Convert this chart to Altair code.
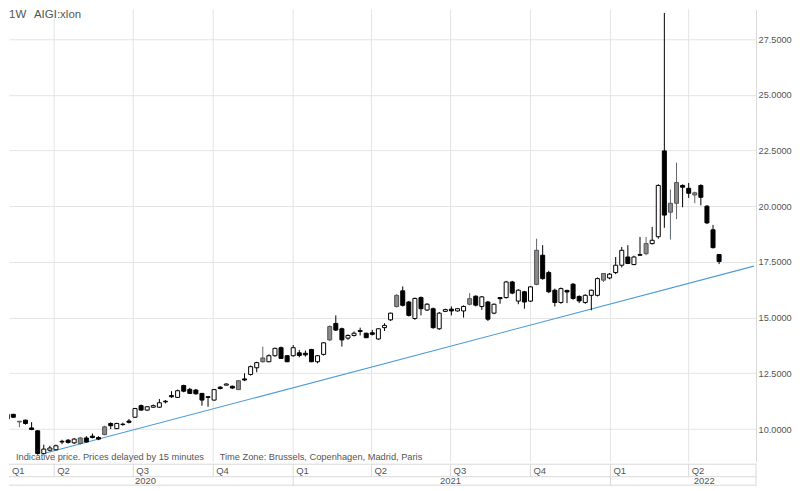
import altair as alt
import pandas as pd

# ---------------- data ----------------
dates = pd.date_range("2020-01-31", periods=119, freq="7D").strftime("%Y-%m-%d").tolist()

opens = [10.50, 10.45, 10.66, 10.35, 10.40, 10.05, 9.92, 8.90, 9.05, 9.07,
         9.42, 9.50, 9.38, 9.35, 9.60, 9.62, 9.62, 9.75, 10.25, 10.02,
         10.20, 10.30, 10.53, 11.05, 10.85, 10.98, 10.98, 11.22, 11.50, 11.42,
         11.95, 11.78, 11.75, 11.60, 11.45, 11.30, 11.82, 11.97, 11.92, 11.77,
         12.20, 12.45, 12.75, 13.02, 13.02, 13.29, 13.65, 13.29, 13.29, 13.42,
         13.40, 13.57, 13.02, 13.35, 14.00, 14.74, 14.50, 14.08, 14.20, 14.38,
         14.30, 14.32, 14.04, 14.55, 14.90, 15.50, 16.20, 15.70, 14.96, 15.90,
         15.34, 15.40, 14.50, 15.28, 15.38, 15.30, 15.30, 15.60, 15.96, 15.50,
         15.70, 15.20, 15.90, 15.90, 16.60, 15.74, 16.16, 15.74, 16.49, 17.80,
         17.02, 16.23, 15.68, 16.15, 16.50, 15.95, 15.68, 16.00, 16.00, 16.68,
         16.78, 17.02, 17.35, 17.72, 17.38, 17.83, 17.87, 18.32, 18.63, 22.48,
         19.73, 20.13, 20.93, 20.80, 20.50, 20.93, 20.00, 18.94, 17.83]
highs = [10.71, 10.70, 10.68, 10.36, 10.42, 10.31, 9.95, 9.30, 9.25, 9.30,
         9.52, 9.55, 9.60, 9.65, 9.68, 9.80, 9.68, 10.15, 10.30, 10.28,
         10.28, 10.45, 10.95, 11.10, 11.02, 11.10, 11.35, 11.30, 11.70, 11.77,
         11.99, 11.85, 11.80, 11.62, 11.47, 11.80, 11.92, 12.05, 11.95, 12.20,
         12.50, 12.85, 13.02, 13.70, 13.35, 13.65, 13.70, 13.32, 13.77, 13.55,
         13.52, 13.60, 13.32, 13.90, 14.65, 15.10, 14.55, 14.25, 14.38, 14.55,
         14.32, 14.45, 14.52, 14.75, 15.22, 16.05, 16.40, 15.75, 15.90, 15.95,
         15.65, 15.45, 15.25, 15.40, 15.50, 15.42, 15.55, 16.10, 16.00, 15.97,
         15.75, 15.63, 15.92, 16.65, 16.65, 16.27, 16.20, 16.42, 18.54, 18.25,
         17.10, 16.30, 16.35, 16.25, 16.55, 16.00, 16.05, 16.25, 16.80, 17.00,
         17.00, 17.72, 18.17, 18.25, 17.78, 18.62, 18.62, 19.07, 20.98, 28.67,
         20.75, 21.95, 20.98, 21.04, 20.65, 20.98, 20.05, 19.16, 17.85]
lows = [10.44, 10.42, 10.50, 10.08, 10.20, 9.95, 8.85, 8.85, 9.00, 9.05,
        9.32, 9.35, 9.33, 9.30, 9.40, 9.58, 9.50, 9.72, 10.00, 10.00,
        10.15, 10.25, 10.50, 10.82, 10.82, 10.95, 10.95, 11.15, 11.40, 11.40,
        11.65, 11.57, 11.55, 11.05, 11.00, 11.28, 11.78, 11.95, 11.80, 11.75,
        12.15, 12.40, 12.55, 12.98, 13.00, 13.25, 13.15, 13.00, 13.25, 13.22,
        13.25, 13.00, 12.95, 13.30, 13.95, 14.40, 13.70, 14.00, 14.15, 14.20,
        14.08, 14.20, 14.00, 14.40, 14.85, 15.45, 15.50, 15.05, 14.90, 15.10,
        15.30, 14.50, 14.45, 15.25, 15.10, 15.27, 15.00, 15.55, 15.50, 15.35,
        14.85, 15.15, 15.62, 15.85, 16.05, 15.60, 15.40, 15.70, 16.45, 16.70,
        16.10, 15.50, 15.62, 15.65, 15.80, 15.65, 15.62, 15.33, 15.95, 16.60,
        16.72, 16.95, 17.25, 17.40, 17.35, 17.77, 17.80, 18.28, 18.54, 19.03,
        18.50, 19.42, 19.95, 20.37, 20.13, 20.04, 19.20, 18.10, 17.40]
closes = [10.65, 10.66, 10.53, 10.32, 10.25, 9.98, 8.90, 9.10, 9.15, 9.25,
          9.45, 9.40, 9.55, 9.60, 9.42, 9.68, 9.55, 10.10, 10.15, 10.25,
          10.22, 10.36, 10.92, 10.85, 11.00, 11.05, 11.18, 11.25, 11.45, 11.72,
          11.70, 11.60, 11.58, 11.30, 11.42, 11.77, 11.88, 12.02, 11.84, 12.17,
          12.25, 12.80, 12.98, 13.19, 13.29, 13.62, 13.17, 13.02, 13.65, 13.30,
          13.33, 13.02, 13.29, 13.87, 14.60, 14.44, 14.00, 14.20, 14.30, 14.42,
          14.10, 14.25, 14.50, 14.65, 15.20, 16.00, 15.55, 15.10, 15.86, 15.40,
          15.60, 14.55, 15.20, 15.36, 15.30, 15.40, 15.50, 15.85, 15.56, 15.93,
          14.93, 15.60, 15.85, 16.60, 16.10, 16.23, 15.70, 16.38, 18.02, 16.75,
          16.16, 15.68, 16.30, 16.22, 15.86, 15.75, 16.00, 16.23, 16.75, 16.98,
          16.95, 17.35, 18.02, 17.43, 17.72, 17.80, 18.32, 18.47, 20.93, 19.60,
          20.13, 21.06, 20.85, 20.58, 20.60, 20.40, 19.25, 18.14, 17.52]
# u = hollow (up), d = filled black (down), g = grey filled
styles = ["u", "u", "d", "g", "d", "d", "d", "u", "u", "u",
          "d", "d", "u", "g", "d", "d", "d", "g", "d", "u",
          "d", "d", "u", "d", "u", "u", "u", "u", "d", "u",
          "d", "d", "d", "d", "d", "u", "d", "u", "d", "g",
          "d", "u", "u", "g", "u", "u", "d", "d", "u", "d",
          "d", "d", "u", "u", "g", "d", "d", "u", "u", "d",
          "d", "d", "u", "u", "u", "g", "d", "d", "u", "d",
          "u", "d", "u", "u", "d", "u", "u", "g", "d", "u",
          "d", "u", "d", "u", "d", "u", "d", "u", "g", "d",
          "d", "d", "u", "d", "d", "d", "u", "u", "u", "g",
          "u", "u", "u", "d", "u", "d", "g", "u", "u", "d",
          "g", "g", "d", "d", "g", "d", "d", "d", "d"]

trend_dates = ["2020-03-20", "2022-06-15"]
trend_values = [8.90, 17.31]

quarter_starts = ["2020-04-01", "2020-07-01", "2020-10-01", "2021-01-01", "2021-04-01",
                  "2021-07-01", "2021-10-01", "2022-01-01", "2022-04-01"]
q_label_dates = ["2020-02-09"] + quarter_starts
q_labels = ["Q1", "Q2", "Q3", "Q4", "Q1", "Q2", "Q3", "Q4", "Q1", "Q2"]
year_bounds = ["2021-01-01", "2022-01-01"]
year_label_dates = ["2020-07-15", "2021-07-01", "2022-04-19"]
year_labels = ["2020", "2021", "2022"]
y_ticks = [10, 12.5, 15, 17.5, 20, 22.5, 25, 27.5]

header_left = "1W"
header_symbol = "AIGI:xlon"
note_1 = "Indicative price. Prices delayed by 15 minutes"
note_2 = "Time Zone: Brussels, Copenhagen, Madrid, Paris"

# ---------------- chart ----------------
FONT = "Liberation Sans"
W, H = 748, 453
GRID = "#e4e4e4"
LINE = "#d9d9d9"
TXT = "#555555"

df = pd.DataFrame(dict(date=dates, open=opens, high=highs, low=lows, close=closes, style=styles))
trend_df = pd.DataFrame(dict(date=trend_dates, value=trend_values))
q_df = pd.DataFrame(dict(date=quarter_starts))
ql_df = pd.DataFrame(dict(date=q_label_dates, label=q_labels))
yb_df = pd.DataFrame(dict(date=year_bounds))
yl_df = pd.DataFrame(dict(date=year_label_dates, label=year_labels))
one = pd.DataFrame(dict(a=[0]))

x_scale = alt.Scale(type="utc", padding=0,
                    domain=[alt.DateTime(year=2020, month=2, date=9, utc=True),
                            alt.DateTime(year=2022, month=6, date=17, hours=12, utc=True)])
y_scale = alt.Scale(domain=[8.534, 28.833], nice=False, zero=False, padding=0)
y_axis = alt.Axis(orient="right", values=y_ticks, format=".4f", ticks=False, grid=True,
                  gridColor=GRID, domain=True, domainColor=LINE, labelColor=TXT,
                  labelFont=FONT, labelFontSize=9.2, labelPadding=2, title=None)


def X(field="date"):
    return alt.X(f"{field}:T", scale=x_scale, axis=None)


sdom = ["u", "d", "g"]

vgrid = alt.Chart(q_df).mark_rule(color=GRID, strokeWidth=1).encode(x=X())

trend = alt.Chart(trend_df).mark_line(color="#4a9bd6", strokeWidth=1.1, clip=True).encode(
    x=X(), y=alt.Y("value:Q", scale=y_scale, axis=y_axis))

wicks = alt.Chart(df).mark_rule(strokeWidth=1, clip=True).encode(
    x=X(),
    y=alt.Y("low:Q", scale=y_scale, axis=y_axis),
    y2="high:Q",
    color=alt.Color("style:N", scale=alt.Scale(domain=sdom, range=["#000000", "#000000", "#5f6670"]),
                    legend=None))

bodies = alt.Chart(df).mark_bar(size=4, strokeWidth=1, clip=True).encode(
    x=X(),
    y=alt.Y("open:Q", scale=y_scale, axis=y_axis),
    y2="close:Q",
    fill=alt.Fill("style:N", scale=alt.Scale(domain=sdom, range=["#ffffff", "#000000", "#8a8a8a"]),
                  legend=None),
    stroke=alt.Stroke("style:N", scale=alt.Scale(domain=sdom, range=["#000000", "#000000", "#555555"]),
                      legend=None))

txt = dict(font=FONT, color=TXT, align="left")
head1 = alt.Chart(one).mark_text(fontSize=11.5, baseline="top", **txt).encode(
    x=alt.value(0), y=alt.value(0), text=alt.value(header_left))
head2 = alt.Chart(one).mark_text(fontSize=11.5, baseline="top", **txt).encode(
    x=alt.value(25), y=alt.value(0), text=alt.value(header_symbol))
foot1 = alt.Chart(one).mark_text(fontSize=9.3, baseline="middle", **txt).encode(
    x=alt.value(7), y=alt.value(448), text=alt.value(note_1))
foot2 = alt.Chart(one).mark_text(fontSize=9.3, baseline="middle", **txt).encode(
    x=alt.value(211), y=alt.value(448), text=alt.value(note_2))

main = alt.layer(vgrid, trend, wicks, bodies, head1, head2, foot1, foot2).properties(width=W, height=H)

# bottom time axis strip
SH = 22
q_rules = alt.Chart(q_df).mark_rule(color=LINE).encode(x=X(), y=alt.value(0), y2=alt.value(13))
y_rules = alt.Chart(yb_df).mark_rule(color=LINE).encode(x=X(), y=alt.value(13), y2=alt.value(21.5))
h0 = alt.Chart(one).mark_rule(color=LINE).encode(x=alt.value(0), x2=alt.value(W), y=alt.value(0.5))
h1 = alt.Chart(one).mark_rule(color=LINE).encode(x=alt.value(0), x2=alt.value(W), y=alt.value(13))
h2 = alt.Chart(one).mark_rule(color=LINE).encode(x=alt.value(0), x2=alt.value(W), y=alt.value(21.5))
rb = alt.Chart(one).mark_rule(color=LINE).encode(x=alt.value(W), y=alt.value(0), y2=alt.value(SH))
q_text = alt.Chart(ql_df).mark_text(font=FONT, fontSize=9.5, color=TXT, align="left",
                                    baseline="middle", dx=3).encode(
    x=X(), y=alt.value(7), text="label:N")
y_text = alt.Chart(yl_df).mark_text(font=FONT, fontSize=9.5, color=TXT, align="center",
                                    baseline="middle").encode(
    x=X(), y=alt.value(17), text="label:N")

strip = alt.layer(q_rules, y_rules, h0, h1, h2, rb, q_text, y_text).properties(width=W, height=SH)

chart = alt.vconcat(main, strip, spacing=0).properties(padding=0).configure_view(stroke=None)

chart.save("out.html", embed_options={"renderer": "svg", "actions": False})
